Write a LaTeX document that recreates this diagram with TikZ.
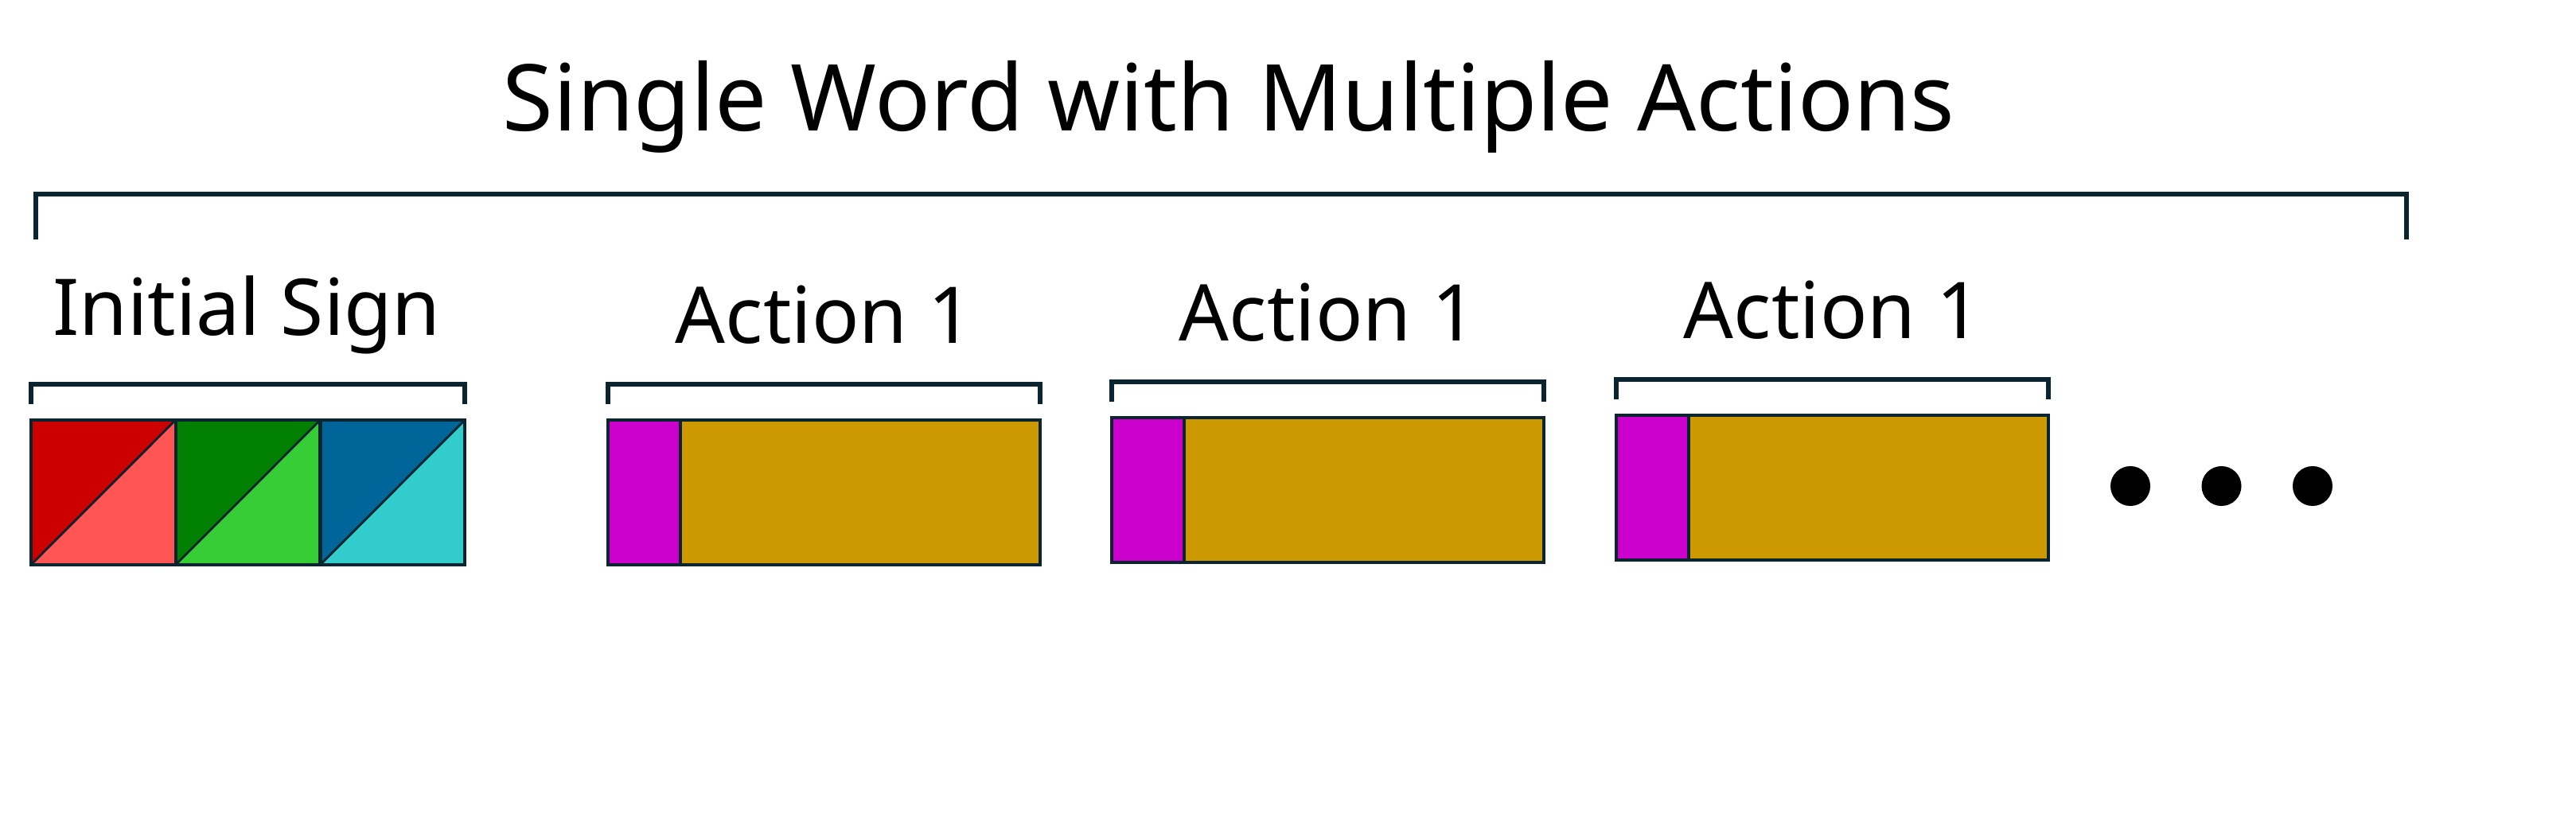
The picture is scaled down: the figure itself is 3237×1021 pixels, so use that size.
\documentclass[tikz,border=0pt]{standalone}
\usepackage{fontspec}
\setmainfont{Noto Sans}
\usetikzlibrary{positioning,calc}
\definecolor{navy}{HTML}{0B2530}
\definecolor{redA}{HTML}{CC0000}
\definecolor{redB}{HTML}{FF5555}
\definecolor{greenA}{HTML}{007F00}
\definecolor{greenB}{HTML}{37CD37}
\definecolor{blueA}{HTML}{006699}
\definecolor{blueB}{HTML}{33CCCC}
\definecolor{handshape}{HTML}{CC00CC}
\definecolor{motion}{HTML}{CC9900}
\tikzset{
  bracket/.style={draw=navy, line width=1.7pt},
  cell/.style={draw=navy, line width=1.2pt, minimum height=1.82cm, inner sep=0pt, outer sep=0pt},
  label/.style={font=\fontsize{28}{30}\selectfont, inner sep=0pt},
  dot/.style={circle, fill=black, minimum size=0.5cm, inner sep=0pt}
}
\begin{document}
\begin{tikzpicture}[x=0.01cm, y=-0.01cm]
    \useasboundingbox (0,0) rectangle (3237,1021);

    % title and big bracket
    \node[font=\fontsize{33}{36}\selectfont, inner sep=0pt] (title) at (1544,134) {Single Word with Multiple Actions};
    \coordinate (bl) at (45,301);
    \coordinate (br) at (3024,301);
    \draw[bracket] (bl) -- ++(0,-57) -| (br);

    % initial sign
    \node[label] (init) at (310,396) {Initial Sign};
    \draw[bracket] (39,508) -- (39,483) -- (584,483) -- (584,508);
    \foreach \i/\ca/\cb in {0/redA/redB, 1/greenA/greenB, 2/blueA/blueB} {
        \coordinate (s\i) at ({39+181.7*\i},528);
        \fill[\ca] (s\i) -- ++(181.7,0) -- ++(-181.7,182) -- cycle;
        \fill[\cb] (s\i) ++(181.7,0) -- ++(0,182) -- ++(-181.7,0) -- cycle;
        \draw[navy, line width=1.2pt] (s\i) rectangle ++(181.7,182);
        \draw[navy, line width=0.8pt] (s\i) ++(181.7,0) -- ++(-181.7,182);
    }

    % actions
    \foreach \n/\x/\y in {a/764/528, b/1397/525, c/2031/522} {
        \node[cell, fill=handshape, minimum width=0.91cm, anchor=north west] (\n h) at (\x,\y) {};
        \node[cell, fill=motion, minimum width=4.52cm, right=0pt of \n h] (\n m) {};
        \draw[bracket] (\n h.north west) ++(0,-20) -- ++(0,-25) -| ([yshift=0.2cm]\n m.north east);
        \node[label] (\n l) at ([yshift=1.32cm]$(\n h.north west)!0.5!(\n m.north east)$) {Action 1};
    }

    % ellipsis
    \node[dot] (d1) at (2677,611) {};
    \node[dot, right=0.63cm of d1] (d2) {};
    \node[dot, right=0.63cm of d2] (d3) {};
\end{tikzpicture}
\end{document}
